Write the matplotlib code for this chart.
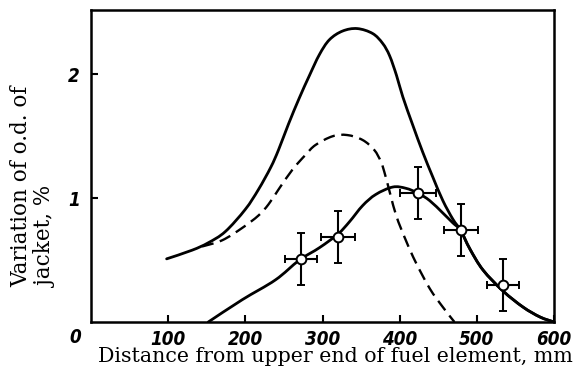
import matplotlib
matplotlib.use("Agg")
import matplotlib.pyplot as plt
from matplotlib.path import Path
from matplotlib.patches import PathPatch
from matplotlib import font_manager

# Upper solid curve
upper_x = [98, 131, 152, 174, 200, 217, 233, 243, 256, 270, 283, 296, 309, 326, 345,
           365, 378, 387, 396, 404, 417, 430, 443, 456, 469, 479, 491, 508, 534, 560, 582, 600]
upper_y = [0.51, 0.58, 0.64, 0.73, 0.91, 1.07, 1.25, 1.39, 1.60, 1.81, 1.99, 2.16, 2.28, 2.35, 2.37,
           2.33, 2.25, 2.15, 1.99, 1.82, 1.59, 1.37, 1.17, 0.98, 0.83, 0.74, 0.59, 0.42, 0.25, 0.12, 0.04, 0.0]

# Dashed curve
dash_x = [144, 170, 196, 217, 230, 243, 261, 278, 291, 313, 332, 352, 367, 376, 382,
          395, 408, 421, 439, 456, 471]
dash_y = [0.61, 0.66, 0.76, 0.86, 0.95, 1.07, 1.23, 1.35, 1.43, 1.50, 1.51, 1.47, 1.39, 1.29, 1.17,
          0.87, 0.66, 0.48, 0.27, 0.12, 0.0]

# Lower solid curve
lower_x = [152, 196, 239, 270, 296, 320, 335, 352, 369, 391, 408, 424, 439, 456, 469, 479,
           491, 508, 534, 560, 582, 600]
lower_y = [0.0, 0.18, 0.34, 0.50, 0.60, 0.71, 0.81, 0.94, 1.03, 1.09, 1.08, 1.04, 0.98, 0.88, 0.80, 0.74,
           0.59, 0.42, 0.25, 0.12, 0.04, 0.0]

# Measured points with error bars
pts_x = [272, 320, 424, 479, 534]
pts_y = [0.51, 0.69, 1.04, 0.74, 0.30]
pts_xerr = [21, 22, 23, 22, 21]
pts_yerr = [0.21, 0.21, 0.21, 0.21, 0.21]

xticks = [100, 200, 300, 400, 500, 600]
yticks = [1, 2]


def smooth_path(xs, ys):
    """Cubic Bezier (Catmull-Rom style) path through the read points."""
    n = len(xs)
    verts = [(xs[0], ys[0])]
    codes = [Path.MOVETO]
    for i in range(n - 1):
        x0, y0 = (xs[i - 1], ys[i - 1]) if i > 0 else (xs[i], ys[i])
        x1, y1 = xs[i], ys[i]
        x2, y2 = xs[i + 1], ys[i + 1]
        x3, y3 = (xs[i + 2], ys[i + 2]) if i + 2 < n else (xs[i + 1], ys[i + 1])
        c1 = (x1 + (x2 - x0) / 6.0, y1 + (y2 - y0) / 6.0)
        c2 = (x2 - (x3 - x1) / 6.0, y2 - (y3 - y1) / 6.0)
        verts += [c1, c2, (x2, y2)]
        codes += [Path.CURVE4] * 3
    return Path(verts, codes)


fonts = font_manager.fontManager.ttflist
names = {f.name for f in fonts}
has_cond = any(f.name == "DejaVu Sans" and f.stretch == "condensed" for f in fonts)
if "Liberation Sans Narrow" in names:
    tick_kw = dict(family=["Liberation Sans Narrow", "DejaVu Sans"], fontsize=14)
elif has_cond:
    tick_kw = dict(family=["DejaVu Sans"], fontsize=13.5, fontstretch="condensed")
else:
    tick_kw = dict(family=["DejaVu Sans"], fontsize=12)

fig = plt.figure(figsize=(5.74, 3.79), dpi=100)
ax = fig.add_axes([91/574, 1 - 322/379, (554 - 91)/574, (322 - 10)/379])

ax.add_patch(PathPatch(smooth_path(upper_x, upper_y), fill=False, ec="black", lw=2.0,
                       capstyle="round"))
ax.add_patch(PathPatch(smooth_path(lower_x, lower_y), fill=False, ec="black", lw=2.0,
                       capstyle="round"))
ax.add_patch(PathPatch(smooth_path(dash_x, dash_y), fill=False, ec="black", lw=1.7,
                       linestyle=(0, (5, 2.8))))
ax.errorbar(pts_x, pts_y, xerr=pts_xerr, yerr=pts_yerr, fmt="o", color="black",
            mfc="white", mec="black", ms=7, mew=1.4, elinewidth=1.5, capsize=3, capthick=1.5,
            zorder=5)

ax.set_xlim(0, 600)
ax.set_ylim(0, 2.52)
ax.set_xticks(xticks)
ax.set_yticks(yticks)
ax.set_xticklabels([str(v) for v in xticks])
ax.set_yticklabels([str(v) for v in yticks])
ax.tick_params(direction="in", length=5, width=1.5, pad=8)
ax.tick_params(axis="x", pad=6)
for lab in ax.get_xticklabels() + ax.get_yticklabels():
    lab.set(fontweight="bold", fontstyle="italic", **tick_kw)
for s in ax.spines.values():
    s.set_linewidth(1.8)

ax.text(-20, -0.05, "0", transform=ax.transData, ha="center", va="top",
        fontweight="bold", fontstyle="italic", clip_on=False, **tick_kw)

fig.text(335/574, 1 - 357/379, "Distance from upper end of fuel element, mm",
         ha="center", va="center", family="DejaVu Serif", fontsize=14.8)
fig.text(34/574, 1 - 287/379, "Variation of o.d. of\njacket, %", rotation=90,
         ha="center", va="bottom", multialignment="left", family="DejaVu Serif",
         fontsize=15.5, linespacing=1.15)

fig.savefig("out.png", dpi=100)
